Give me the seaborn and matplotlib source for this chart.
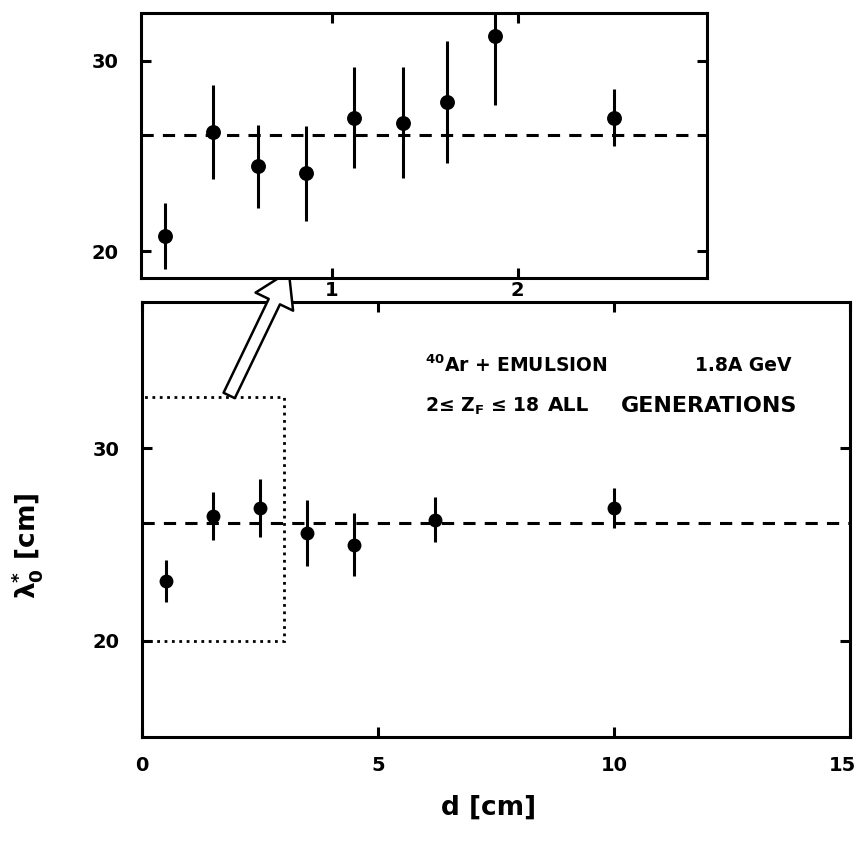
import matplotlib
matplotlib.use("Agg")
import matplotlib.pyplot as plt
import matplotlib.transforms as mtransforms
import seaborn as sns
import pandas as pd
from matplotlib.patches import Rectangle

# main panel: d [cm] vs mean free path
main_d = [0.5, 1.5, 2.5, 3.5, 4.5, 6.2, 10.0]
main_lam = [23.1, 26.5, 26.9, 25.6, 25.0, 26.3, 26.9]
main_err = [1.1, 1.25, 1.5, 1.7, 1.65, 1.15, 1.05]

# inset: first 3 cm in finer bins
inset_d = [0.1, 0.36, 0.6, 0.86, 1.12, 1.38, 1.62, 1.88, 2.52]
inset_lam = [20.8, 26.25, 24.45, 24.1, 27.0, 26.75, 27.85, 31.3, 27.0]
inset_err = [1.75, 2.45, 2.2, 2.5, 2.65, 2.9, 3.2, 3.6, 1.5]

mean_lam = 26.1

main_df = pd.DataFrame({"d": main_d, "lam": main_lam, "err": main_err})
inset_df = pd.DataFrame({"d": inset_d, "lam": inset_lam, "err": inset_err})

sns.set_style("ticks")
plt.rcParams["font.family"] = ["DejaVu Sans"]
plt.rcParams["font.weight"] = "bold"
plt.rcParams["mathtext.fontset"] = "dejavusans"
plt.rcParams["text.color"] = "black"
plt.rcParams["axes.labelcolor"] = "black"

fig = plt.figure(figsize=(8.58, 8.57), dpi=100)
ax = fig.add_axes([0.1655, 0.140, 0.8252, 0.5076])
axi = fig.add_axes([0.1643, 0.6756, 0.6597, 0.3092])

lw = 2.2


def style_axes(a, xticks, yticks, xpad, ypad):
    for s in a.spines.values():
        s.set_linewidth(lw)
        s.set_color("black")
    a.set_xticks(xticks)
    a.set_yticks(yticks)
    a.tick_params(direction="in", length=7, width=lw, top=True, right=True,
                  labelsize=14, colors="black")
    a.tick_params(axis="x", pad=xpad)
    a.tick_params(axis="y", pad=ypad)
    for lab in a.get_xticklabels() + a.get_yticklabels():
        lab.set_fontweight("bold")


# main panel
ax.errorbar(main_df["d"], main_df["lam"], yerr=main_df["err"], fmt="none",
            ecolor="black", elinewidth=lw, capsize=0)
sns.scatterplot(data=main_df, x="d", y="lam", ax=ax, color="black", s=100,
                edgecolor="black", linewidth=0, zorder=3)
ax.axhline(mean_lam, color="black", lw=lw, dashes=(4, 3))
ax.set_xlim(0, 15)
ax.set_ylim(15, 37.6)
style_axes(ax, [0, 5, 10, 15], [20, 30], 14, 16)
# keep the "15" inside the figure
last = ax.get_xticklabels()[-1]
last.set_transform(last.get_transform() +
                   mtransforms.ScaledTranslation(-8 / 100, 0, fig.dpi_scale_trans))

ax.set_xlabel("d [cm]", fontsize=19, fontweight="bold")
ax.xaxis.set_label_coords(0.49, -0.133)
ax.set_ylabel(r"$\mathbf{\lambda^{*}_{0}}$ [cm]", fontsize=19, fontweight="bold")
ax.yaxis.set_label_coords(-0.137, 0.44)

ax.add_patch(Rectangle((0, 20), 3.0, 12.65, fill=False, ls=":", lw=2,
                       ec="black", zorder=2))

ax.text(6.0, 34.3, r"$^{\mathbf{40}}$Ar + EMULSION", fontsize=13.5,
        fontweight="bold", va="center", ha="left")
ax.text(13.75, 34.3, "1.8A GeV", fontsize=13.5, fontweight="bold",
        va="center", ha="right")
ax.text(6.0, 32.2, "2≤ Z$_\\mathbf{F}$ ≤ 18", fontsize=13.5,
        fontweight="bold", va="center", ha="left")
ax.text(8.6, 32.2, "ALL", fontsize=14.5, fontweight="bold",
        va="center", ha="left")
ax.text(13.88, 32.2, "GENERATIONS", fontsize=16, fontweight="bold",
        va="center", ha="right")

# inset
axi.errorbar(inset_df["d"], inset_df["lam"], yerr=inset_df["err"], fmt="none",
             ecolor="black", elinewidth=lw, capsize=0)
sns.scatterplot(data=inset_df, x="d", y="lam", ax=axi, color="black", s=115,
                edgecolor="black", linewidth=0, zorder=3)
axi.axhline(mean_lam, color="black", lw=lw, dashes=(4, 3))
axi.set_xlim(-0.03, 3.02)
axi.set_ylim(18.6, 32.5)
style_axes(axi, [1, 2], [20, 30], 2, 16)
axi.set_xlabel("")
axi.set_ylabel("")

# hollow arrow from dotted box to inset
ax.annotate("", xy=(0.338, 0.686), xycoords="figure fraction",
            xytext=(0.2657, 0.5356), textcoords="figure fraction",
            arrowprops=dict(arrowstyle="simple,head_length=2.4,head_width=3.0,tail_width=0.9",
                            mutation_scale=10, fc="white", ec="black", lw=1.8),
            annotation_clip=False, zorder=5)

fig.savefig("out.png", dpi=100)
